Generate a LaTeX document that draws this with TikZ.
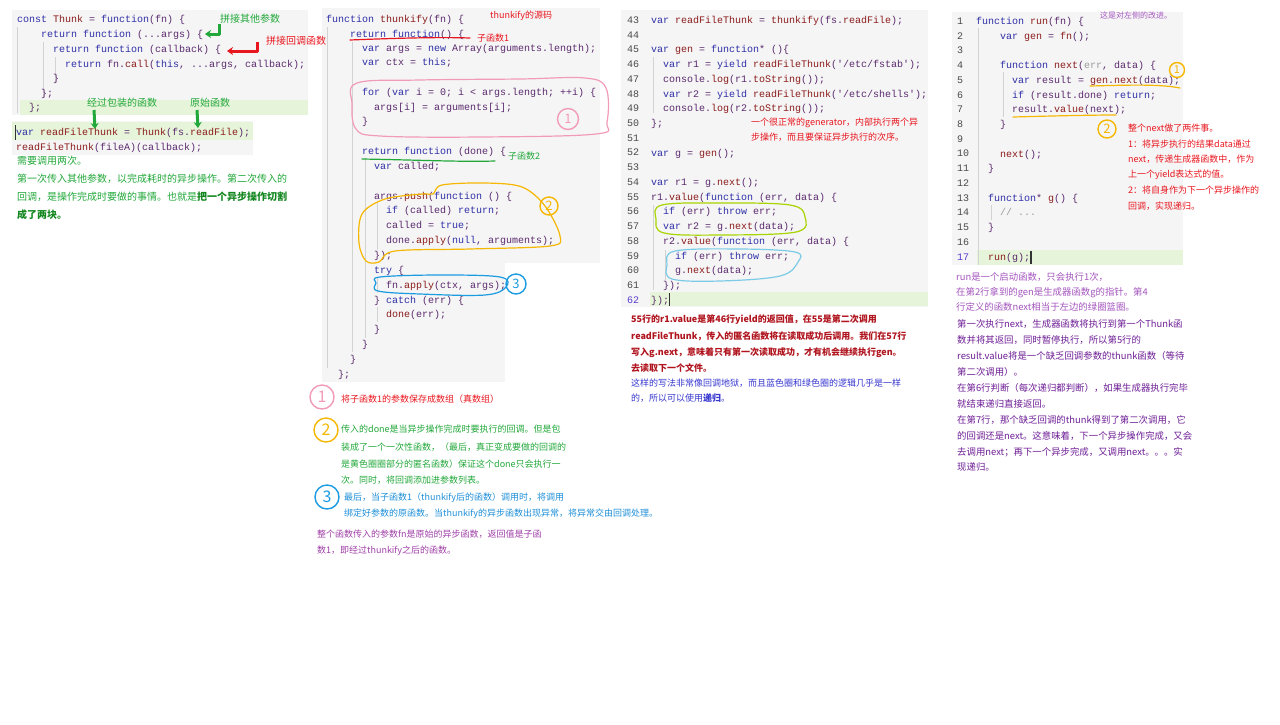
\documentclass[tikz,border=0pt]{standalone}
\usepackage{fontspec}
\setmainfont{Noto Sans CJK SC}
\setmonofont{Liberation Mono}
\usetikzlibrary{arrows.meta}
\definecolor{bgc}{HTML}{F5F5F5}
\definecolor{hl}{HTML}{E6F4D9}
\definecolor{kw}{HTML}{2F2FA8}
\definecolor{fnc}{HTML}{8B1C1C}
\definecolor{ctx}{HTML}{5B2A6E}
\definecolor{lnc}{HTML}{4A4A4A}
\definecolor{cgray}{HTML}{9A9A9A}
\definecolor{guide}{HTML}{D2D2D2}
\definecolor{ngreen}{HTML}{22A83A}
\definecolor{dgreen}{HTML}{13871F}
\definecolor{nred}{HTML}{E8161E}
\definecolor{npink}{HTML}{F29BB9}
\definecolor{norange}{HTML}{F5B700}
\definecolor{nblue}{HTML}{1B9BE0}
\definecolor{tblue}{HTML}{1E8FD8}
\definecolor{tpurple}{HTML}{A040A8}
\definecolor{dred}{HTML}{B0141E}
\definecolor{iblue}{HTML}{3838D0}
\definecolor{lpurple}{HTML}{A455BE}
\definecolor{dpurple}{HTML}{6E1E96}
\definecolor{ygreen}{HTML}{A8D400}
\definecolor{lblue}{HTML}{7CCBE6}
\definecolor{lnblue}{HTML}{5A3AD0}
\newcommand\kwd[1]{\textcolor{kw}{#1}}
\newcommand\fnn[1]{\textcolor{fnc}{#1}}
\newcounter{cln}
\newcounter{ntn}
\newcommand\CL[3]{\stepcounter{cln}\node[code] (c\arabic{cln}) at (#1,#2+3.5) {#3};}
\newcommand\NT[5]{\stepcounter{ntn}\node[#1, text=#2] (n\arabic{ntn}) at (#3,#4+4) {#5};}
\begin{document}
\begin{tikzpicture}[x=1pt,y=-1pt,
  code/.style={anchor=base west, inner sep=0pt, font=\ttfamily\fontsize{10}{12}\selectfont, text=ctx},
  lnum/.style={anchor=base west, inner sep=0pt, font=\ttfamily\fontsize{10}{12}\selectfont, text=lnc},
  nten/.style={anchor=base west, inner sep=0pt, font=\fontsize{10}{12}\selectfont},
  nnine/.style={anchor=base west, inner sep=0pt, font=\fontsize{9}{11}\selectfont},
  nninefive/.style={anchor=base west, inner sep=0pt, font=\fontsize{9.4}{11}\selectfont},
  neight/.style={anchor=base west, inner sep=0pt, font=\fontsize{8}{10}\selectfont},
  panel/.style={fill=bgc, draw=none},
  hlrow/.style={fill=hl, draw=none},
  guideline/.style={draw=guide, line width=0.8pt},
  cnum/.style={circle, draw, line width=1.4pt, inner sep=0pt, minimum size=17pt, font=\fontsize{13}{13}\selectfont},
  handline/.style={line width=1.2pt, line cap=round, line join=round},
  harrow/.style={line width=3pt, line join=round, -{Stealth[length=6pt,width=8pt]}},
  cursor/.style={draw=black!80, line width=0.8pt}
]
\useasboundingbox (0,0) rectangle (1280,724);
\fill[white] (0,0) rectangle (1280,724);

% ================= Backgrounds =================
\fill[panel] (12,10) rectangle (308,115);
\fill[hlrow] (20,100) rectangle (308,115);
\fill[panel] (12,121) rectangle (253,155);
\fill[hlrow] (12,122) rectangle (253,140);
\fill[panel] (322,8) rectangle (600,263);
\fill[panel] (322,262) rectangle (505,382);
\fill[panel] (621,10) rectangle (928,307);
\fill[hlrow] (650,292) rectangle (928,306);
\fill[panel] (952,12) rectangle (1183,265);
\fill[hlrow] (977,250) rectangle (1183,265);

% ================= Panel 1 =================
\draw[guideline] (17,27) -- (17,113);
\draw[guideline] (43,42) -- (43,97);
\draw[guideline] (55,57) -- (55,83);
\draw[cursor] (15,125) -- (15,140);

\CL{17}{19}{\kwd{const} \fnn{Thunk} = \kwd{function}(fn) \{}
\CL{41}{34}{\kwd{return} \kwd{function} (...args) \{}
\CL{53}{49}{\kwd{return} \kwd{function} (callback) \{}
\CL{65}{64}{\kwd{return} fn.\fnn{call}(\kwd{this}, ...args, callback);}
\CL{53}{78}{\}}
\CL{41}{93}{\};}
\CL{29}{107}{\};}
\CL{16}{132}{\kwd{var} \fnn{readFileThunk} = \fnn{Thunk}(fs.\fnn{readFile});}
\CL{16}{147}{\fnn{readFileThunk}(fileA)(callback);}

\NT{nten}{ngreen}{220}{18}{拼接其他参数}
\NT{nten}{nred}{266}{40}{拼接回调函数}
\NT{nten}{ngreen}{87}{102}{经过包装的函数}
\NT{nten}{ngreen}{190}{102}{原始函数}

\coordinate (ga1) at (219,24); \coordinate (ga2) at (205,34);
\draw[harrow, ngreen] (ga1) -- (ga1 |- ga2) -- (ga2);
\coordinate (ra1) at (257,42); \coordinate (ra2) at (227,51);
\draw[harrow, nred] (ra1) -- (ra1 |- ra2) -- (ra2);
\coordinate (d1s) at (94,110); \coordinate (d1e) at (95,129);
\draw[harrow, ngreen] (d1s) -- (d1e);
\coordinate (d2s) at (197,110); \coordinate (d2e) at (198,128);
\draw[harrow, ngreen] (d2s) -- (d2e);

\NT{nten}{ngreen}{17}{160}{需要调用两次。}
\NT{nten}{ngreen}{17}{178}{第一次传入其他参数，以完成耗时的异步操作。第二次传入的}
\NT{nten}{ngreen}{17}{196}{回调，是操作完成时要做的事情。也就是\textcolor{dgreen}{\bfseries 把一个异步操作切割}}
\NT{nten}{dgreen}{17}{214}{\bfseries 成了两块。}

% ================= Panel 2 =================
\draw[guideline] (327,27) -- (327,368);
\draw[guideline] (352,42) -- (352,352);
\draw[guideline] (365,158) -- (365,338);
\draw[guideline] (377,202) -- (377,250);
\draw[guideline] (377,277) -- (377,293);
\draw[guideline] (377,307) -- (377,322);

\CL{326}{19}{\kwd{function} \fnn{thunkify}(fn) \{}
\CL{350}{34}{\kwd{return} \kwd{function}() \{}
\CL{362}{48}{\kwd{var} args = \kwd{new} Array(arguments.length);}
\CL{362}{62}{\kwd{var} ctx = \kwd{this};}
\CL{362}{92}{\kwd{for} (\kwd{var} i = 0; i < args.length; ++i) \{}
\CL{374}{107}{args[i] = arguments[i];}
\CL{362}{121}{\}}
\CL{362}{151}{\kwd{return} \kwd{function} (done) \{}
\CL{374}{166}{\kwd{var} called;}
\CL{374}{196}{args.\fnn{push}(\kwd{function} () \{}
\CL{386}{210}{\kwd{if} (called) \kwd{return};}
\CL{386}{225}{called = \kwd{true};}
\CL{386}{240}{done.\fnn{apply}(\kwd{null}, arguments);}
\CL{374}{255}{\});}
\CL{374}{270}{\kwd{try} \{}
\CL{386}{285}{fn.\fnn{apply}(ctx, args);}
\CL{374}{300}{\} \kwd{catch} (err) \{}
\CL{386}{314}{\fnn{done}(err);}
\CL{374}{329}{\}}
\CL{362}{344}{\}}
\CL{350}{359}{\}}
\CL{338}{374}{\};}

\NT{nnine}{nred}{490}{14}{thunkify的源码}
\NT{nnine}{nred}{477}{37}{子函数1}
\NT{nnine}{ngreen}{508}{155}{子函数2}
\draw[handline, nred] (350,40) .. controls (400,38) and (440,37) .. (470,38);
\draw[handline, ngreen] (362,159) .. controls (420,160) and (460,162) .. (495,161);
\draw[handline, npink] plot[smooth cycle, tension=0.6] coordinates {(357,83) (420,80) (520,79) (585,78) (606,88) (607,122) (596,134) (480,137) (380,136) (356,129) (352,104)};
\draw[handline, norange] plot[smooth cycle, tension=0.55] coordinates {(433,194) (442,185) (485,183) (522,187) (545,206) (560,236) (550,246) (470,249) (395,251) (379,262) (366,261) (359,243) (362,214) (385,199) (422,194)};
\draw[handline, nblue] plot[smooth cycle, tension=0.6] coordinates {(380,277) (440,275) (500,277) (506,287) (485,295) (420,294) (378,291) (376,283)};
\node[cnum, draw=npink, text=npink, minimum size=21pt] (p2c1) at (568,119) {1};
\node[cnum, draw=norange, text=norange, minimum size=18pt] (p2c2) at (549,206) {2};
\node[cnum, draw=nblue, text=nblue, minimum size=20pt] (p2c3) at (516,284) {3};

\node[cnum, draw=npink, text=npink, minimum size=24pt, font=\fontsize{16}{16}\selectfont] (b2c1) at (322,397) {1};
\node[cnum, draw=norange, text=norange, minimum size=24pt, font=\fontsize{16}{16}\selectfont] (b2c2) at (326,430) {2};
\node[cnum, draw=nblue, text=nblue, minimum size=24pt, font=\fontsize{16}{16}\selectfont] (b2c3) at (327,497) {3};
\NT{nnine}{nred}{341}{398}{将子函数1的参数保存成数组（真数组）}
\NT{nnine}{ngreen}{341}{428}{传入的done是当异步操作完成时要执行的回调。但是包}
\NT{nnine}{ngreen}{341}{446}{装成了一个一次性函数，（最后，真正变成要做的回调的}
\NT{nnine}{ngreen}{341}{463}{是黄色圈圈部分的匿名函数）保证这个done只会执行一}
\NT{nnine}{ngreen}{341}{479}{次。同时，将回调添加进参数列表。}
\NT{nnine}{tblue}{344}{496}{最后，当子函数1（thunkify后的函数）调用时，将调用}
\NT{nnine}{tblue}{344}{512}{绑定好参数的原函数。当thunkify的异步函数出现异常，将异常交由回调处理。}
\NT{nnine}{tpurple}{317}{533}{整个函数传入的参数fn是原始的异步函数，返回值是子函}
\NT{nnine}{tpurple}{317}{549}{数1，即经过thunkify之后的函数。}

% ================= Panel 3 =================
\draw[guideline] (653,57) -- (653,113);
\draw[guideline] (653,205) -- (653,290);
\draw[guideline] (665,250) -- (665,280);
\draw[cursor] (669,293) -- (669,306);
\foreach \n [count=\i from 0] in {43,...,61}
  \node[lnum] (p3n\n) at (627,23.5+14.72*\i) {\n};
\node[lnum, text=lnblue] (p3n62) at (627,23.5+14.72*19) {62};
\CL{651}{20.0}{\kwd{var} \fnn{readFileThunk} = \fnn{thunkify}(fs.\fnn{readFile});}
\CL{651}{49.4}{\kwd{var} \fnn{gen} = \kwd{function}* ()\{}
\CL{663}{64.2}{\kwd{var} r1 = \kwd{yield} \fnn{readFileThunk}('/etc/fstab');}
\CL{663}{78.9}{console.\fnn{log}(r1.\fnn{toString}());}
\CL{663}{93.6}{\kwd{var} r2 = \kwd{yield} \fnn{readFileThunk}('/etc/shells');}
\CL{663}{108.3}{console.\fnn{log}(r2.\fnn{toString}());}
\CL{651}{123.0}{\};}
\CL{651}{152.5}{\kwd{var} g = \fnn{gen}();}
\CL{651}{181.9}{\kwd{var} r1 = g.\fnn{next}();}
\CL{651}{196.6}{r1.\fnn{value}(\kwd{function} (err, data) \{}
\CL{663}{211.4}{\kwd{if} (err) \kwd{throw} err;}
\CL{663}{226.1}{\kwd{var} r2 = g.\fnn{next}(data);}
\CL{663}{240.8}{r2.\fnn{value}(\kwd{function} (err, data) \{}
\CL{675}{255.5}{\kwd{if} (err) \kwd{throw} err;}
\CL{675}{270.2}{g.\fnn{next}(data);}
\CL{663}{285.0}{\});}
\CL{651}{299.7}{\});}

\NT{nnine}{nred}{751}{121}{一个很正常的generator，内部执行两个异}
\NT{nnine}{nred}{751}{136}{步操作，而且要保证异步执行的次序。}
\draw[handline, ygreen] plot[smooth cycle, tension=0.6] coordinates {(662,205) (720,203) (790,205) (805,217) (796,232) (720,235) (664,233) (656,219)};
\draw[handline, lblue] plot[smooth cycle, tension=0.6] coordinates {(675,251) (740,249) (795,252) (798,262) (780,276) (720,281) (672,279) (667,265)};

\NT{nnine}{dred}{631}{318}{\bfseries 55行的r1.value是第46行yield的返回值，在55是第二次调用}
\NT{nnine}{dred}{631}{335}{\bfseries readFileThunk，传入的匿名函数将在读取成功后调用。我们在57行}
\NT{nnine}{dred}{631}{351}{\bfseries 写入g.next，意味着只有第一次读取成功，才有机会继续执行gen。}
\NT{nnine}{dred}{631}{367}{\bfseries 去读取下一个文件。}
\NT{nnine}{iblue}{631}{382}{这样的写法非常像回调地狱，而且蓝色圈和绿色圈的逻辑几乎是一样}
\NT{nnine}{iblue}{631}{397}{的，所以可以使用\textbf{递归}。}

% ================= Panel 4 =================
\draw[guideline] (978,28) -- (978,265);
\draw[guideline] (1003,72) -- (1003,117);
\draw[guideline] (991,205) -- (991,220);
\draw[cursor, line width=1.6pt] (1031,251) -- (1031,264);
\foreach \n [count=\i from 0] in {1,...,16}
  \node[lnum] (p4n\n) at (957,24.5+14.72*\i) {\n};
\node[lnum, text=lnblue] (p4n17) at (957,24.5+14.72*16) {17};
\CL{976}{21.0}{\kwd{function} \fnn{run}(fn) \{}
\CL{1000}{35.7}{\kwd{var} \fnn{gen} = \fnn{fn}();}
\CL{1000}{65.2}{\kwd{function} \fnn{next}(\textcolor{cgray}{err}, data) \{}
\CL{1012}{79.9}{\kwd{var} result = \fnn{gen}.\fnn{next}(data);}
\CL{1012}{94.6}{\kwd{if} (result.done) \kwd{return};}
\CL{1012}{109.3}{result.\fnn{value}(next);}
\CL{1000}{124.0}{\}}
\CL{1000}{153.5}{\fnn{next}();}
\CL{988}{168.2}{\}}
\CL{988}{197.6}{\kwd{function}* \fnn{g}() \{}
\CL{1000}{212.4}{\textcolor{cgray}{// ...}}
\CL{988}{227.1}{\}}
\CL{988}{256.5}{\fnn{run}(g);}

\NT{neight}{lpurple}{1100}{14}{这是对左侧的改进。}
\draw[handline, norange] (1090,86) .. controls (1130,85) and (1160,84) .. (1180,88);
\draw[handline, norange] (1013,117) .. controls (1050,116) and (1090,115) .. (1116,115);
\node[cnum, draw=norange, text=norange, minimum size=15pt, font=\fontsize{11}{11}\selectfont] (p4c1) at (1177,70) {1};
\node[cnum, draw=norange, text=norange, minimum size=18pt] (p4c2) at (1107,129) {2};
\NT{nnine}{nred}{1128}{127}{整个next做了两件事。}
\NT{nnine}{nred}{1128}{143}{1：将异步执行的结果data通过}
\NT{nnine}{nred}{1128}{158}{next，传递生成器函数中，作为}
\NT{nnine}{nred}{1128}{173}{上一个yield表达式的值。}
\NT{nnine}{nred}{1128}{189}{2：将自身作为下一个异步操作的}
\NT{nnine}{nred}{1128}{205}{回调，实现递归。}

\NT{nninefive}{lpurple}{956}{276}{run是一个启动函数，只会执行1次，}
\NT{nninefive}{lpurple}{956}{291}{在第2行拿到的gen是生成器函数g的指针。第4}
\NT{nninefive}{lpurple}{956}{306}{行定义的函数next相当于左边的绿圈篮圈。}
\NT{nninefive}{dpurple}{957}{323}{第一次执行next，生成器函数将执行到第一个Thunk函}
\NT{nninefive}{dpurple}{957}{339}{数并将其返回，同时暂停执行，所以第5行的}
\NT{nninefive}{dpurple}{957}{355}{result.value将是一个缺乏回调参数的thunk函数（等待}
\NT{nninefive}{dpurple}{957}{371}{第二次调用）。}
\NT{nninefive}{dpurple}{957}{387}{在第6行判断（每次递归都判断），如果生成器执行完毕}
\NT{nninefive}{dpurple}{957}{403}{就结束递归直接返回。}
\NT{nninefive}{dpurple}{957}{419}{在第7行，那个缺乏回调的thunk得到了第二次调用，它}
\NT{nninefive}{dpurple}{957}{435}{的回调还是next。这意味着，下一个异步操作完成，又会}
\NT{nninefive}{dpurple}{957}{451}{去调用next；再下一个异步完成，又调用next。。。实}
\NT{nninefive}{dpurple}{957}{466}{现递归。}
\end{tikzpicture}
\end{document}
